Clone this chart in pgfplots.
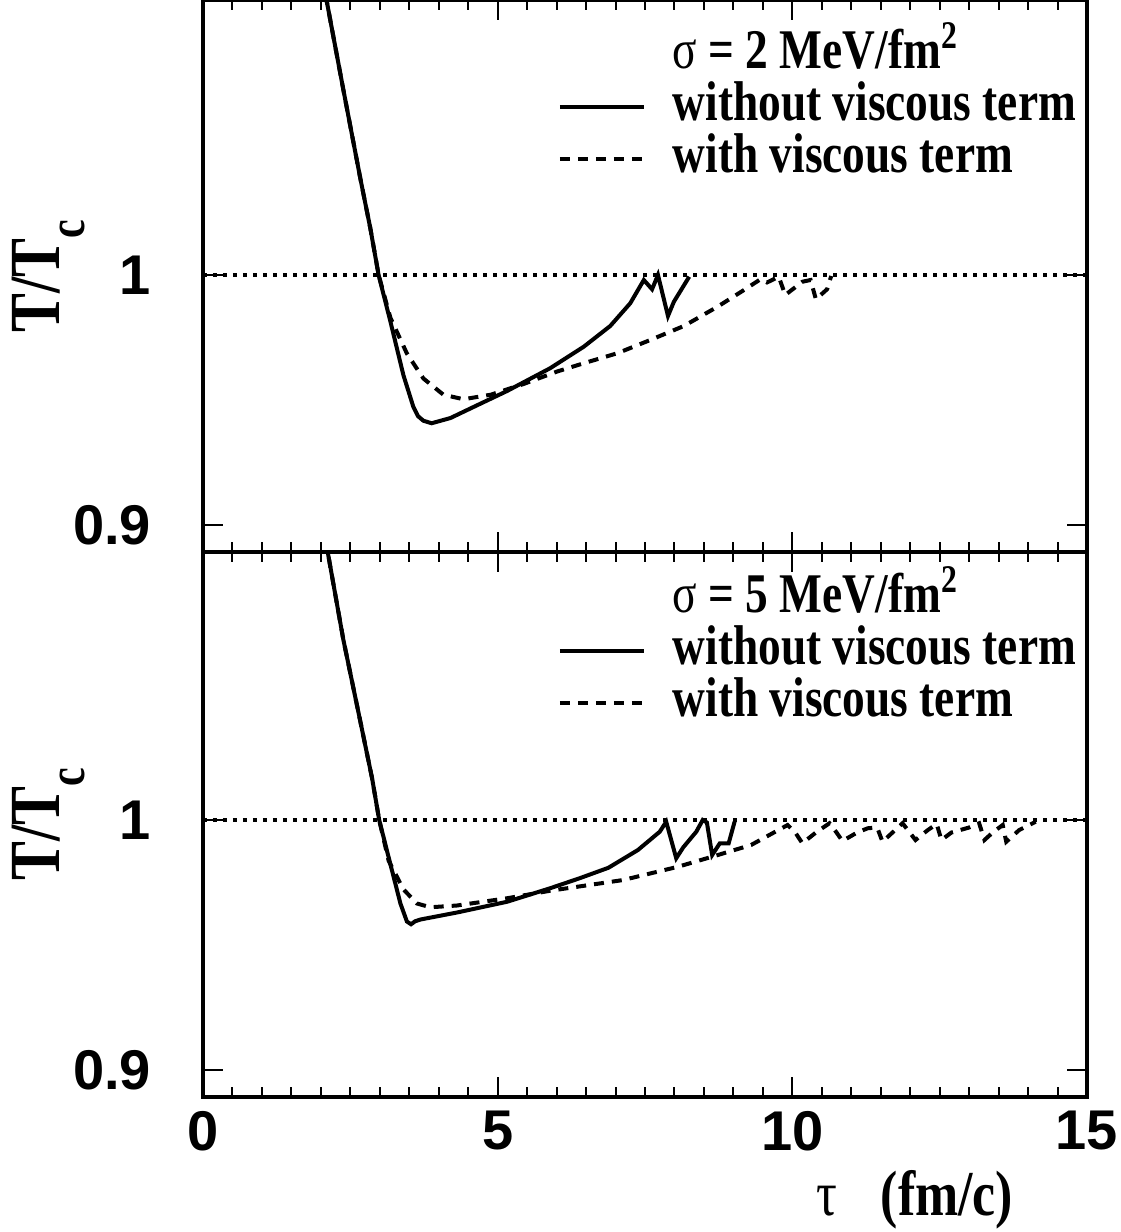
\documentclass[border=0pt]{standalone}
\usepackage{fontspec}
\setmainfont{Liberation Serif}
\newfontfamily\legfont{Liberation Serif}[FakeStretch=0.81]
\newfontfamily\tickfont{Liberation Sans}
\usepackage{pgfplots}
\pgfplotsset{compat=1.18}

\pgfplotsset{
  panel/.style={
    scale only axis, width=221pt, xmin=0, xmax=15,
    xtick={0,5,10,15}, minor x tick num=9,
    ytick={0.9,1}, yticklabels={0.9,1},
    tick align=inside, tick pos=both,
    major tick length=5pt, minor tick length=2.5pt,
    axis line style={line width=0.8pt},
    every tick/.style={black, line width=0.5pt},
    every minor tick/.style={black, line width=0.5pt},
    ticklabel style={font=\tickfont\bfseries\fontsize{14}{14}\selectfont},
    yticklabel style={xshift=-9.5pt},
    legend image code/.code={\draw[##1] (0pt,0pt) -- (21pt,0pt);},
    legend cell align=left,
    legend style={draw=none, fill=none, inner sep=0pt, column sep=6.75pt,
      font=\legfont\bfseries\fontsize{14}{14}\selectfont,
      nodes={inner sep=0pt, text height=10pt, text depth=3pt}},
    ylabel={T/T\raisebox{-0.35em}{\fontsize{13}{13}\selectfont c}},
    ylabel style={at={(axis description cs:-0.175,0.5)}, anchor=center,
      font=\legfont\bfseries\fontsize{18}{18}\selectfont},
  },
  solidc/.style={black, line width=1pt},
  dashc/.style={black, line width=1pt, dash pattern=on 2.5pt off 2pt},
  dotc/.style={black, line width=1pt, dash pattern=on 1pt off 1.5pt, forget plot},
}

\begin{document}
\begin{tikzpicture}
\path[use as bounding box] (-50.75pt,-170pt) rectangle (229.5pt,138pt);

% sigma = 2
\begin{axis}[panel, at={(0,0)}, anchor=south west,
  height=138pt, ymin=0.8892, ymax=1.11,
  xticklabels={},
  legend style={at={(0.4005,0.949)}, anchor=north west}]
\addlegendimage{empty legend}
\addlegendentry{{\mdseries σ} = 2 MeV/fm\textsuperscript{2}}
\addplot[solidc] coordinates {
 (2.08,1.112) (2.38,1.0743) (2.67,1.0386) (2.84,1.0186) (2.98,1.0)
 (3.18,0.9814) (3.40,0.960) (3.57,0.9472) (3.65,0.9435) (3.74,0.9417)
 (3.88,0.9407) (4.20,0.9428) (4.59,0.9472) (5.16,0.9536) (5.89,0.9627)
 (6.46,0.9713) (6.91,0.9796) (7.25,0.9887) (7.48,0.998) (7.62,0.9943)
 (7.72,1.0) (7.89,0.9836) (7.99,0.9893) (8.25,0.9993)
};
\addlegendentry{without viscous term}
\addplot[dashc] coordinates {
 (2.08,1.112) (2.38,1.0743) (2.67,1.0386) (2.84,1.0186) (2.98,1.0)
 (3.18,0.9829) (3.46,0.9686) (3.74,0.9586) (4.08,0.9521) (4.42,0.9503)
 (4.88,0.9521) (5.44,0.9564) (6.01,0.9614) (6.46,0.9647) (7.03,0.9687)
 (7.59,0.974) (8.16,0.9796) (8.73,0.9873) (9.18,0.994) (9.46,0.9983)
 (9.57,0.997) (9.77,0.9993) (9.88,0.992) (10.17,0.9973) (10.31,0.998)
 (10.40,0.9903) (10.59,0.9943) (10.66,0.9996)
};
\addlegendentry{with viscous term}
\addplot[dotc] coordinates {(0,1) (15,1)};
\end{axis}

% sigma = 5
\begin{axis}[panel, at={(0,0)}, anchor=north west,
  height=136.25pt, ymin=0.8892, ymax=1.1072,
  xticklabels={0,5,10,15},
  xlabel={{\mdseries τ}\hspace{11pt}(fm/c)},
  xlabel style={at={(axis description cs:0.805,-0.189)}, anchor=center,
    font=\legfont\bfseries\fontsize{16}{16}\selectfont},
  legend style={at={(0.4005,0.963)}, anchor=north west}]
\addlegendimage{empty legend}
\addlegendentry{{\mdseries σ} = 5 MeV/fm\textsuperscript{2}}
\addplot[solidc] coordinates {
 (2.08,1.112) (2.38,1.0723) (2.67,1.0394) (2.87,1.0166) (2.99,1.0)
 (3.18,0.9823) (3.35,0.9666) (3.46,0.9594) (3.53,0.9583) (3.60,0.9595)
 (3.69,0.9602) (4.31,0.963) (5.16,0.9673) (5.89,0.9727) (6.39,0.9767)
 (6.88,0.9809) (7.38,0.988) (7.75,0.9953) (7.86,0.9993) (8.03,0.9847)
 (8.15,0.9891) (8.37,0.9953) (8.48,1.0) (8.55,0.999) (8.64,0.986)
 (8.77,0.9907) (8.92,0.9907) (9.02,0.9993)
};
\addlegendentry{without viscous term}
\addplot[dashc] coordinates {
 (2.08,1.112) (2.38,1.0723) (2.67,1.0394) (2.87,1.0166) (2.99,1.0)
 (3.15,0.9837) (3.40,0.9723) (3.63,0.9666) (3.86,0.9651) (4.31,0.9658)
 (5.16,0.9687) (5.89,0.9717) (7.13,0.976) (8.06,0.9813) (8.68,0.9856)
 (9.30,0.99) (9.92,0.998) (10.05,0.995) (10.17,0.9907) (10.40,0.995)
 (10.63,0.9987) (10.75,0.995) (10.85,0.9916) (11.10,0.995) (11.28,0.9967)
 (11.44,0.997) (11.53,0.9913) (11.70,0.995) (11.87,0.9987) (12.09,0.992)
 (12.30,0.996) (12.45,0.9984) (12.53,0.992) (12.70,0.995) (12.85,0.996)
 (13.00,0.997) (13.17,0.9987) (13.26,0.992) (13.40,0.995) (13.57,0.998)
 (13.63,0.9913) (13.85,0.996) (14.13,0.9993)
};
\addlegendentry{with viscous term}
\addplot[dotc] coordinates {(0,1) (15,1)};
\end{axis}
\end{tikzpicture}
\end{document}
